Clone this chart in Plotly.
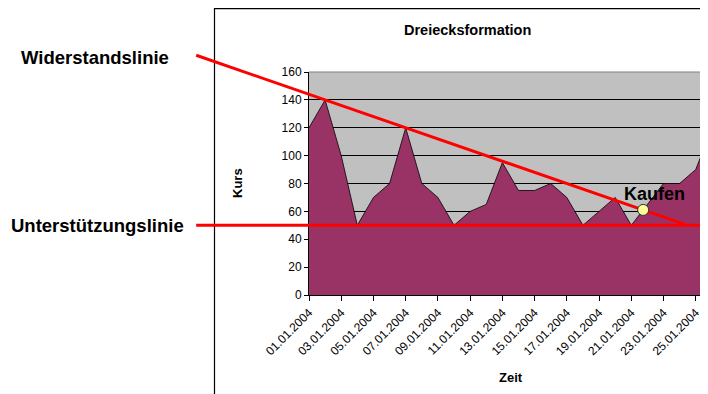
import plotly.graph_objects as go

# ---------------- data ----------------
DAYS = list(range(1, 27))
DATES = [f"{d:02d}.01.2004" for d in DAYS]
KURS = [120, 140, 100, 50, 70, 80, 120, 80, 70, 50, 60, 65, 95,
        75, 75, 80, 70, 50, 60, 70, 50, 65, 80, 80, 90, 120]
TICK_DAYS = DAYS[::2]
TICK_LABELS = DATES[::2]
Y_TICKS = [0, 20, 40, 60, 80, 100, 120, 140, 160]

# trend lines (defined by the chart points they touch)
RESIST_DAYS = [2, 7]
RESIST_VALS = [140, 120]
SUPPORT_LEVEL = 50

TITLE = "Dreiecksformation"
Y_TITLE = "Kurs"
X_TITLE = "Zeit"
LBL_RESIST = "Widerstandslinie"
LBL_SUPPORT = "Unterstützungslinie"
LBL_BUY = "Kaufen"

# ---------------- layout geometry ----------------
# the page body has an 8px margin; reference pixel positions are shifted by OFF
OFF = 8
W, H = 708 - OFF, 394 - OFF
ML, MR, MT = 309 - OFF, 0, 72 - OFF
MB = H - (295 - OFF)
PW, PH = W - ML - MR, H - MT - MB
X_RANGE = [1, 25.76]
Y_RANGE = [0, 160]
FONT = "Liberation Sans, Arial, sans-serif"


def xp(day):
    return (day - X_RANGE[0]) / (X_RANGE[1] - X_RANGE[0])


def yp(v):
    return (v - Y_RANGE[0]) / (Y_RANGE[1] - Y_RANGE[0])


def pxx(px):
    """reference-image pixel x -> paper x"""
    return (px - OFF - ML) / PW


def pxy(py):
    """reference-image pixel y -> paper y"""
    return (H - MB - (py - OFF)) / PH


slope = (RESIST_VALS[1] - RESIST_VALS[0]) / (RESIST_DAYS[1] - RESIST_DAYS[0])


def resist(d):
    return RESIST_VALS[0] + slope * (d - RESIST_DAYS[0])


line_start_day = -6.0
resist_end_day = RESIST_DAYS[0] + (SUPPORT_LEVEL - RESIST_VALS[0]) / slope

# buy point: last upward crossing of the price through the resistance line
buy_day, buy_val = None, None
for i in range(len(DAYS) - 1):
    d0, d1 = DAYS[i], DAYS[i + 1]
    v0, v1 = KURS[i], KURS[i + 1]
    f0, f1 = v0 - resist(d0), v1 - resist(d1)
    if d1 <= resist_end_day and f0 < 0 <= f1:
        t = -f0 / (f1 - f0)
        buy_day = d0 + t * (d1 - d0)
        buy_val = v0 + t * (v1 - v0)

fig = go.Figure()
fig.add_trace(go.Scatter(
    x=DAYS, y=KURS, mode="lines", fill="tozeroy",
    fillcolor="#993366", line=dict(color="#000000", width=0.8),
    hoverinfo="skip", showlegend=False,
))

shapes = []
# chart box border
shapes.append(dict(type="rect", xref="paper", yref="paper",
                   x0=pxx(214.5), x1=pxx(740), y0=pxy(8.6), y1=pxy(430),
                   line=dict(color="#000000", width=1.2), fillcolor="rgba(0,0,0,0)",
                   layer="below"))
# plot area top border (gray)
shapes.append(dict(type="line", xref="paper", yref="paper",
                   x0=0, x1=1, y0=1, y1=1,
                   line=dict(color="#808080", width=1.2), layer="above"))
# resistance line
shapes.append(dict(type="line", xref="paper", yref="paper",
                   x0=xp(line_start_day), y0=yp(resist(line_start_day)),
                   x1=xp(resist_end_day), y1=yp(SUPPORT_LEVEL),
                   line=dict(color="#FF0000", width=3), layer="above"))
# support line
shapes.append(dict(type="line", xref="paper", yref="paper",
                   x0=xp(line_start_day), y0=yp(SUPPORT_LEVEL),
                   x1=1.1, y1=yp(SUPPORT_LEVEL),
                   line=dict(color="#FF0000", width=3), layer="above"))
# buy marker
shapes.append(dict(type="circle", xref="x", yref="y",
                   xsizemode="pixel", ysizemode="pixel",
                   xanchor=buy_day, yanchor=buy_val,
                   x0=-5.5, x1=5.5, y0=-5.5, y1=5.5,
                   fillcolor="#FFFF99", line=dict(color="#333333", width=1),
                   layer="above"))

annotations = [
    dict(text=f"<b>{TITLE}</b>", xref="paper", yref="paper",
         x=pxx(467.5), y=pxy(30), xanchor="center", yanchor="middle",
         showarrow=False, font=dict(size=14.5, color="#000000", family=FONT)),
    dict(text=f"<b>{Y_TITLE}</b>", xref="paper", yref="paper",
         x=pxx(237), y=pxy(183), xanchor="center", yanchor="middle",
         textangle=-90, showarrow=False,
         font=dict(size=13, color="#000000", family=FONT)),
    dict(text=f"<b>{X_TITLE}</b>", xref="paper", yref="paper",
         x=pxx(511), y=pxy(377), xanchor="center", yanchor="middle",
         showarrow=False, font=dict(size=13, color="#000000", family=FONT)),
    dict(text=f"<b>{LBL_RESIST}</b>", xref="paper", yref="paper",
         x=pxx(19), y=pxy(57), xanchor="left", yanchor="middle",
         showarrow=False, font=dict(size=18.5, color="#000000", family=FONT)),
    dict(text=f"<b>{LBL_SUPPORT}</b>", xref="paper", yref="paper",
         x=pxx(9), y=pxy(225), xanchor="left", yanchor="middle",
         showarrow=False, font=dict(size=18.5, color="#000000", family=FONT)),
    dict(text=f"<b>{LBL_BUY}</b>", xref="x", yref="y",
         x=buy_day, y=buy_val, xanchor="center", yanchor="bottom",
         xshift=11.5, yshift=4,
         showarrow=False, font=dict(size=18, color="#000000", family=FONT)),
]

fig.update_layout(
    width=W, height=H,
    margin=dict(l=ML, r=MR, t=MT, b=MB, pad=0),
    paper_bgcolor="#FFFFFF", plot_bgcolor="#C0C0C0",
    font=dict(family=FONT, color="#000000", size=12),
    showlegend=False,
    shapes=shapes, annotations=annotations,
    xaxis=dict(range=X_RANGE, tickmode="array", tickvals=TICK_DAYS,
               ticktext=TICK_LABELS, tickangle=-45, ticks="outside",
               ticklen=5, tickcolor="#000000", showgrid=False,
               showline=True, linecolor="#000000", linewidth=1,
               zeroline=False, tickfont=dict(size=12, family=FONT)),
    yaxis=dict(range=Y_RANGE, tickmode="array", tickvals=Y_TICKS,
               ticks="outside", ticklen=4, tickcolor="#000000",
               showgrid=True, gridcolor="#000000", gridwidth=1,
               showline=True, linecolor="#000000", linewidth=1,
               zeroline=False, tickfont=dict(size=12, family=FONT)),
)

fig.write_html("out.html")
